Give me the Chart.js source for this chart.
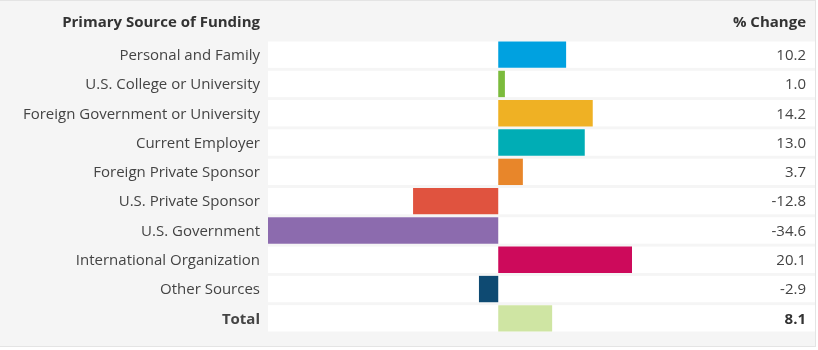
<!DOCTYPE html>
<html><head><meta charset="utf-8">
<script src="https://cdn.jsdelivr.net/npm/chart.js@4.4.0/dist/chart.umd.min.js"></script>
<style>
html,body{margin:0;padding:0;background:#fff;}
#box{position:absolute;left:0;top:0;width:815px;height:345px;background:#f5f5f5;border-top:1px solid #e4e4e4;border-right:1px solid #e4e4e4;border-bottom:1px solid #e4e4e4;}
#wrap{position:absolute;left:0;top:0;width:818px;height:350px;}
</style></head>
<body>
<div id="box"></div>
<div id="wrap"><canvas id="c" width="818" height="350"></canvas></div>
<script>
const categories = ["Personal and Family","U.S. College or University","Foreign Government or University","Current Employer","Foreign Private Sponsor","U.S. Private Sponsor","U.S. Government","International Organization","Other Sources","Total"];
const values = [10.2, 1.0, 14.2, 13.0, 3.7, -12.8, -34.6, 20.1, -2.9, 8.1];
const barColors = ["#00a1e0","#7bbb3c","#efb124","#00adb5","#e8862a","#e0533f","#8c6bae","#cd0a5b","#0e4a72","#cfe5a3"];
const headerLeft = "Primary Source of Funding";
const headerRight = "% Change";

const FONT = "'Open Sans', sans-serif";

const rowsPlugin = {
  id: 'rows',
  beforeDatasetsDraw(chart) {
    const ctx = chart.ctx, ys = chart.scales.y, ca = chart.chartArea;
    const step = Math.abs(ys.getPixelForValue(1) - ys.getPixelForValue(0));
    const h = step * 0.9;
    ctx.save();
    ctx.fillStyle = '#ffffff';
    categories.forEach((c, i) => {
      const yc = ys.getPixelForValue(i);
      ctx.fillRect(ca.left, yc - h / 2, ca.right - ca.left, h);
    });
    ctx.restore();
  },
  afterDraw(chart) {
    const ctx = chart.ctx, ys = chart.scales.y;
    ctx.save();
    ctx.fillStyle = '#333';
    ctx.textBaseline = 'middle';
    ctx.textAlign = 'right';
    ctx.font = "bold 15px " + FONT;
    ctx.fillText(headerLeft, 260, 23);
    ctx.fillText(headerRight, 806, 23);
    values.forEach((v, i) => {
      const last = i === values.length - 1;
      ctx.font = (last ? "bold " : "") + "15px " + FONT;
      ctx.fillStyle = last ? '#333' : '#444';
      ctx.fillText(v.toFixed(1), 806, ys.getPixelForValue(i) + 1);
    });
    ctx.restore();
  }
};

new Chart(document.getElementById('c'), {
  type: 'bar',
  data: {
    labels: categories,
    datasets: [{
      data: values,
      backgroundColor: barColors,
      borderWidth: 0,
      categoryPercentage: 0.9,
      barPercentage: 1.0
    }]
  },
  options: {
    indexAxis: 'y',
    responsive: false,
    animation: false,
    devicePixelRatio: 1,
    layout: { padding: { left: 0, right: 3, top: 40, bottom: 15 } },
    plugins: { legend: { display: false }, tooltip: { enabled: false } },
    scales: {
      x: {
        display: false,
        min: -34.6,
        max: 47.6,
        grid: { display: false }
      },
      y: {
        grid: { display: false, drawTicks: false },
        border: { display: false },
        afterFit(scale) { scale.width = 268; },
        ticks: {
          padding: 8,
          labelOffset: 1,
          color: '#444',
          font: (ctx) => ({ family: FONT, size: 15, weight: ctx.index === categories.length - 1 ? 'bold' : 'normal' })
        }
      }
    }
  },
  plugins: [rowsPlugin]
});
</script>
</body></html>
